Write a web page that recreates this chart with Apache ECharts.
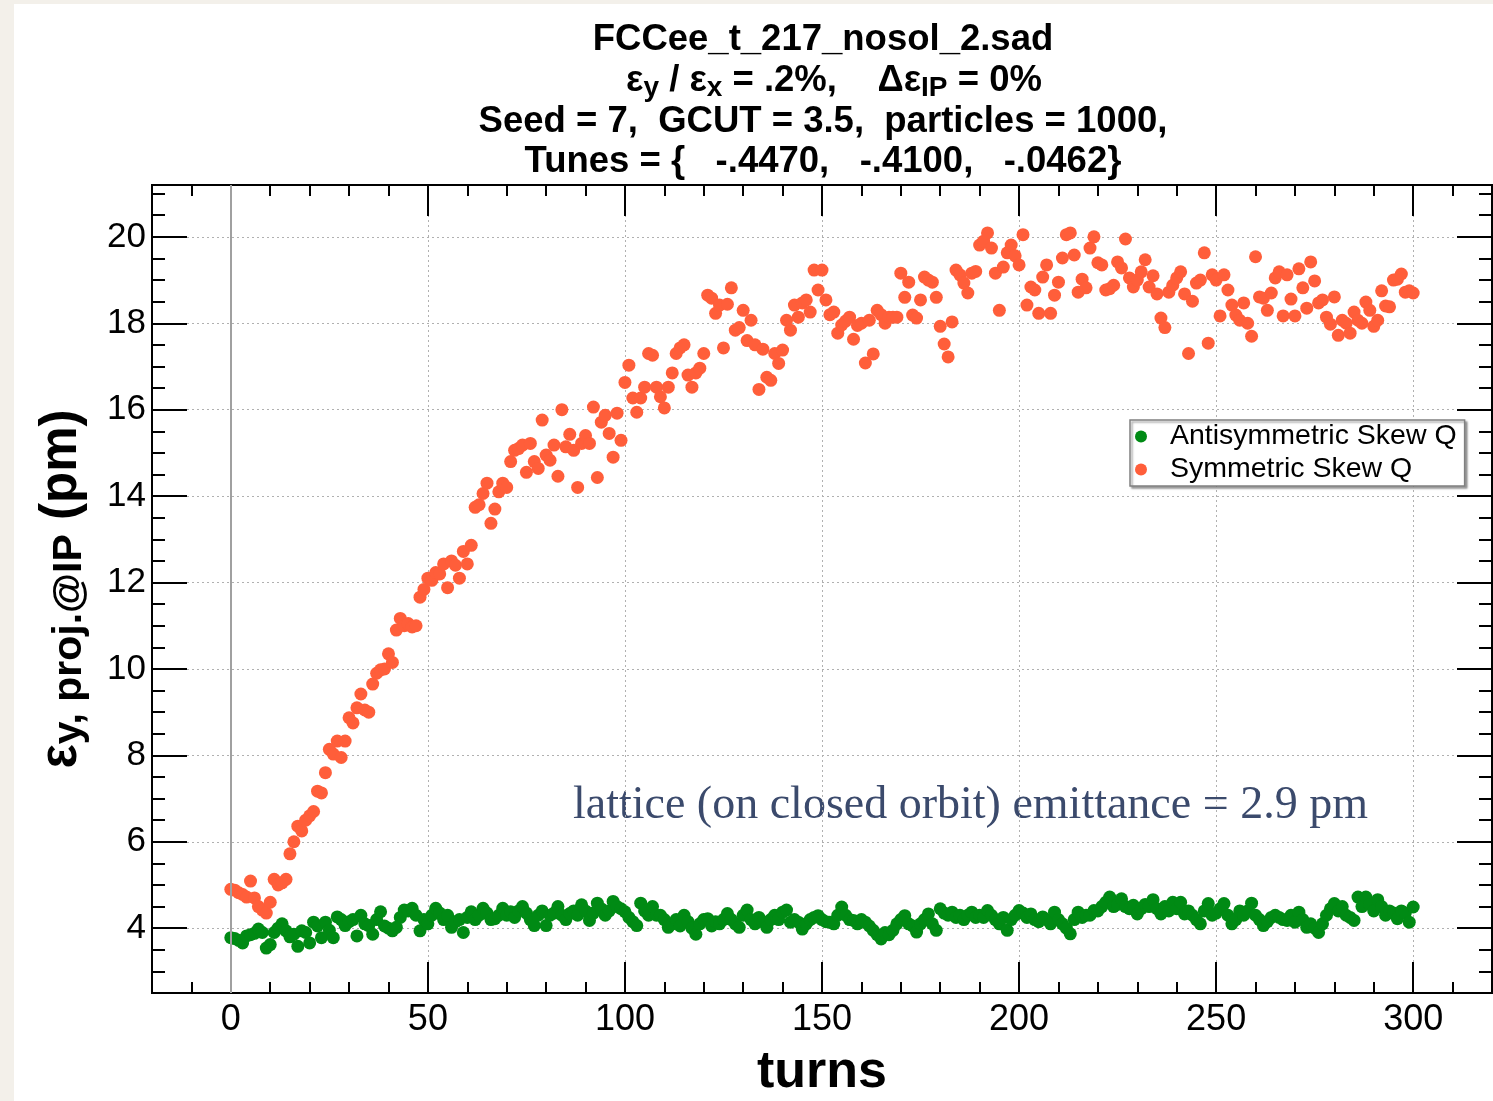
<!DOCTYPE html>
<html>
<head>
<meta charset="utf-8">
<script src="https://cdn.jsdelivr.net/npm/echarts@6/dist/echarts.min.js"></script>
<style>
html,body{margin:0;padding:0;background:#fff;}
#chart{width:1493px;height:1101px;}
</style>
</head>
<body>
<div id="chart"></div>
<script>
// ---- data (turn index = position in array, turns 0..300) ----
const seriesNames = ['Antisymmetric Skew Q', 'Symmetric Skew Q'];

const antisymValues = [
3.78,3.76,3.72,3.66,3.82,3.85,3.88,3.98,3.9,3.54,
3.62,3.9,4.0,4.1,3.94,3.8,3.86,3.58,3.94,3.9,
3.66,4.14,4.05,3.78,4.14,3.95,3.78,4.26,4.2,4.06,
4.15,4.2,3.82,4.3,4.1,4.06,3.86,4.2,4.38,4.05,
4.0,3.94,4.02,4.25,4.42,4.4,4.46,4.3,3.94,4.2,
4.1,4.3,4.46,4.35,4.2,4.3,4.02,4.15,4.2,3.9,
4.25,4.38,4.2,4.3,4.46,4.35,4.2,4.22,4.3,4.46,
4.3,4.38,4.25,4.4,4.5,4.35,4.2,4.06,4.3,4.4,
4.06,4.3,4.35,4.5,4.3,4.2,4.34,4.4,4.3,4.54,
4.4,4.18,4.35,4.58,4.45,4.3,4.4,4.62,4.5,4.45,
4.38,4.25,4.15,4.06,4.58,4.4,4.3,4.5,4.3,4.3,
4.2,4.02,4.1,4.2,4.05,4.3,4.15,4.0,3.86,4.1,
4.2,4.22,4.05,4.15,4.1,4.2,4.34,4.2,4.1,4.02,
4.3,4.42,4.2,4.1,4.25,4.15,4.02,4.2,4.3,4.2,
4.37,4.42,4.14,4.2,4.14,3.98,4.1,4.2,4.25,4.29,
4.2,4.15,4.14,4.1,4.3,4.49,4.3,4.2,4.18,4.1,
4.2,4.14,4.05,3.95,3.85,3.75,3.9,3.85,3.95,4.1,
4.2,4.29,4.1,4.05,3.91,4.1,4.2,4.33,4.1,3.95,
4.45,4.35,4.3,4.37,4.25,4.3,4.2,4.3,4.37,4.25,
4.3,4.25,4.41,4.3,4.2,4.1,4.25,3.95,4.2,4.3,
4.41,4.35,4.25,4.33,4.2,4.15,4.26,4.2,4.1,4.37,
4.2,4.1,4.0,3.87,4.2,4.37,4.25,4.3,4.3,4.41,
4.4,4.5,4.6,4.72,4.5,4.55,4.68,4.5,4.45,4.53,
4.33,4.45,4.55,4.5,4.66,4.45,4.33,4.5,4.4,4.6,
4.45,4.6,4.33,4.4,4.3,4.2,4.1,4.4,4.57,4.3,
4.35,4.45,4.57,4.3,4.1,4.2,4.4,4.3,4.4,4.58,
4.3,4.2,4.06,4.15,4.25,4.3,4.25,4.2,4.18,4.3,
4.14,4.37,4.2,4.02,4.1,4.0,3.9,4.1,4.3,4.45,
4.57,4.4,4.5,4.3,4.25,4.18,4.72,4.5,4.72,4.55,
4.4,4.66,4.5,4.3,4.4,4.35,4.22,4.4,4.35,4.14,
4.49
];

const symValues = [
4.9,4.88,4.82,4.78,4.72,5.09,4.7,4.5,4.42,4.35,
4.6,5.13,5.0,5.05,5.13,5.72,6.0,6.36,6.25,6.5,
6.6,6.7,7.17,7.13,7.6,8.14,8.03,8.33,7.95,8.33,
8.87,8.75,9.1,9.42,9.05,9.0,9.65,9.9,9.98,10.0,
10.35,10.15,10.9,11.17,11.0,11.05,10.97,11.0,11.66,11.84,
12.1,12.05,12.23,12.2,12.43,11.88,12.5,12.4,12.1,12.72,
12.43,12.86,13.74,13.8,14.06,14.3,13.37,13.7,14.1,14.3,
14.2,14.8,15.06,15.1,15.18,14.55,15.22,14.8,14.64,15.76,
14.95,14.83,15.18,14.46,16.0,15.14,15.43,15.06,14.2,15.22,
15.4,15.22,16.06,14.43,15.71,15.87,15.45,14.9,15.92,15.29,
16.63,17.03,16.27,15.94,16.27,16.52,17.3,17.26,16.52,16.3,
16.04,16.52,16.85,17.3,17.43,17.5,16.8,16.52,16.85,16.96,
17.3,18.65,18.58,18.23,18.42,17.43,18.44,18.82,17.84,17.9,
18.3,17.6,18.07,17.5,16.47,17.4,16.75,16.68,17.3,17.07,
17.38,18.07,17.84,18.42,18.14,18.47,18.54,18.26,19.23,18.77,
19.23,18.54,18.2,18.26,17.77,17.96,18.05,18.14,17.63,17.95,
18.0,17.08,18.07,17.29,18.3,18.2,18.0,18.14,18.14,18.14,
19.16,18.6,18.95,18.19,18.12,18.54,19.07,19.0,18.95,18.6,
17.93,17.52,17.22,18.03,19.23,19.12,18.93,18.7,19.16,19.2,
19.81,19.9,20.09,19.74,19.16,18.3,19.3,19.63,19.81,19.56,
19.35,20.05,18.42,18.84,18.77,18.23,19.07,19.35,18.23,18.65,
18.95,19.51,20.05,20.09,19.58,18.72,19.02,18.82,19.74,20.0,
19.4,19.35,18.77,18.8,18.88,19.42,19.28,19.95,19.05,18.84,
19.0,19.19,19.47,18.84,19.1,18.68,18.12,17.9,18.72,18.88,
19.05,19.19,18.68,17.3,18.51,18.93,19.0,19.63,17.54,19.12,
19.0,18.17,19.12,18.77,18.42,18.19,18.07,18.47,18.0,17.7,
19.54,18.61,18.58,18.3,18.7,19.05,19.19,18.17,19.12,18.56,
18.17,19.26,18.82,18.35,19.42,18.98,18.47,18.54,18.14,17.98,
18.61,17.72,18.07,18.0,17.77,18.26,18.07,18.0,18.49,18.3,
17.93,18.07,18.75,18.4,18.38,19.0,19.02,19.14,18.72,18.75,
18.7
];

const xMajorTicks = [0, 50, 100, 150, 200, 250, 300];
const xMinorTicks = [-10, 10, 20, 30, 40, 60, 70, 80, 90, 110, 120, 130, 140, 160, 170, 180, 190, 210, 220, 230, 240, 260, 270, 280, 290, 310];
const yMajorTicks = [4, 6, 8, 10, 12, 14, 16, 18, 20];
const yMinorTicks = [2.5, 3, 3.5, 4.5, 5, 5.5, 6.5, 7, 7.5, 8.5, 9, 9.5, 10.5, 11, 11.5, 12.5, 13, 13.5, 14.5, 15, 15.5, 16.5, 17, 17.5, 18.5, 19, 19.5, 20.5, 21];

const titleLine1 = 'FCCee_t_217_nosol_2.sad';
const titleLine2 = 'ε{s|y} / ε{s|x} = .2%,    Δε{s|IP} = 0%';
const titleLine3 = 'Seed = 7,  GCUT = 3.5,  particles = 1000,';
const titleLine4 = 'Tunes = {   -.4470,   -.4100,   -.0462}';
const xAxisTitle = 'turns';
const yAxisTitle = 'ε{s|y, proj.@IP} (pm)';
const annotation = 'lattice (on closed orbit) emittance = 2.9 pm';

// ---- chart ----
const SANS = '"Liberation Sans", Arial, sans-serif';
const XMIN = -20, XMAX = 320, YMIN = 2.5, YMAX = 21.2;
const green = '#008a14';
const red = '#ff5e3a';

function xAxisDef(pos, ticks, len, showLabel, showSplit) {
  return {
    type: 'value', position: pos, min: XMIN, max: XMAX,
    axisLine: {show: true, onZero: false, lineStyle: {color: '#000', width: 2}},
    axisTick: {show: true, inside: true, length: len, customValues: ticks, lineStyle: {color: '#000', width: 2}},
    axisLabel: {show: showLabel, customValues: ticks, fontSize: 36, color: '#000', fontFamily: SANS, margin: 9},
    splitLine: {show: showSplit, lineStyle: {color: '#b0b0b0', width: 1, type: [2, 3]}}
  };
}
function yAxisDef(pos, ticks, len, showLabel, showSplit) {
  return {
    type: 'value', position: pos, min: YMIN, max: YMAX,
    axisLine: {show: true, onZero: false, lineStyle: {color: '#000', width: 2}},
    axisTick: {show: true, inside: true, length: len, customValues: ticks, lineStyle: {color: '#000', width: 2}},
    axisLabel: {show: showLabel, customValues: ticks, fontSize: 35, color: '#000', fontFamily: SANS, margin: 6},
    splitLine: {show: showSplit, lineStyle: {color: '#b0b0b0', width: 1, type: [2, 3]}}
  };
}

const chart = echarts.init(document.getElementById('chart'), null, {renderer: 'canvas'});

const titleFont = 'bold 36.5px ' + SANS;
const option = {
  animation: false,
  backgroundColor: '#ffffff',
  grid: {left: 152, top: 185, width: 1340, height: 808, containLabel: false},
  xAxis: [
    xAxisDef('bottom', xMajorTicks, 31, true, true),
    xAxisDef('bottom', xMinorTicks, 11, false, false),
    xAxisDef('top', xMajorTicks, 31, false, false),
    xAxisDef('top', xMinorTicks, 11, false, false)
  ],
  yAxis: [
    yAxisDef('left', yMajorTicks, 35, true, true),
    yAxisDef('left', yMinorTicks, 13, false, false),
    yAxisDef('right', yMajorTicks, 35, false, false),
    yAxisDef('right', yMinorTicks, 13, false, false)
  ],
  legend: {
    left: 1130, top: 420, orient: 'vertical', icon: 'circle',
    itemWidth: 12, itemHeight: 12, itemGap: 4,
    backgroundColor: '#ffffff', borderColor: '#808080', borderWidth: 1.5,
    padding: [2, 8, 2, 5],
    shadowColor: 'rgba(0,0,0,0.35)', shadowOffsetX: 2, shadowOffsetY: 2, shadowBlur: 2,
    textStyle: {fontSize: 28.5, color: '#000', fontFamily: SANS, lineHeight: 28, padding: [0, 0, 0, 18]},
    data: seriesNames
  },
  series: [
    {
      name: seriesNames[0], type: 'scatter', xAxisIndex: 0, yAxisIndex: 0,
      symbol: 'circle', symbolSize: 13,
      itemStyle: {color: green, opacity: 1},
      data: antisymValues.map((v, i) => [i, v]),
      markLine: {
        silent: true, symbol: 'none', label: {show: false},
        lineStyle: {color: '#a0a0a0', width: 2, type: 'solid'},
        data: [{xAxis: 0}]
      },
      z: 3
    },
    {
      name: seriesNames[1], type: 'scatter', xAxisIndex: 0, yAxisIndex: 0,
      symbol: 'circle', symbolSize: 13,
      itemStyle: {color: red, opacity: 1},
      data: symValues.map((v, i) => [i, v]),
      z: 3
    }
  ],
  graphic: [
    {type: 'rect', shape: {x: 0, y: 0, width: 14, height: 1101}, style: {fill: '#f3f0ea'}, silent: true},
    {type: 'rect', shape: {x: 0, y: 0, width: 1493, height: 4}, style: {fill: '#f3f0ea'}, silent: true},
    {type: 'text', x: 823, y: 40, style: {text: titleLine1, font: titleFont, fill: '#000', textAlign: 'center', textVerticalAlign: 'middle'}},
    {type: 'text', x: 834, y: 81, style: {
      text: titleLine2, font: titleFont, fill: '#000', textAlign: 'center', textVerticalAlign: 'middle', lineHeight: 42,
      rich: {s: {font: 'bold 28px ' + SANS, fill: '#000', lineHeight: 15, verticalAlign: 'bottom'}}
    }},
    {type: 'text', x: 823, y: 122, style: {text: titleLine3, font: titleFont, fill: '#000', textAlign: 'center', textVerticalAlign: 'middle'}},
    {type: 'text', x: 823, y: 162, style: {text: titleLine4, font: titleFont, fill: '#000', textAlign: 'center', textVerticalAlign: 'middle'}},
    {type: 'text', x: 822, y: 1073, style: {text: xAxisTitle, font: 'bold 52px ' + SANS, fill: '#000', textAlign: 'center', textVerticalAlign: 'middle'}},
    {type: 'text', x: 62, y: 589, rotation: Math.PI / 2, style: {
      text: yAxisTitle, font: 'bold 51px ' + SANS, fill: '#000', textAlign: 'center', textVerticalAlign: 'middle', lineHeight: 56,
      rich: {s: {font: 'bold 41px ' + SANS, fill: '#000', lineHeight: 22, verticalAlign: 'bottom'}}
    }},
    {type: 'text', x: 573, y: 806, style: {text: annotation, font: '46px "Liberation Serif", serif', fill: '#3b4a6c', textAlign: 'left', textVerticalAlign: 'middle'}}
  ]
};
chart.setOption(option);
</script>
</body>
</html>
